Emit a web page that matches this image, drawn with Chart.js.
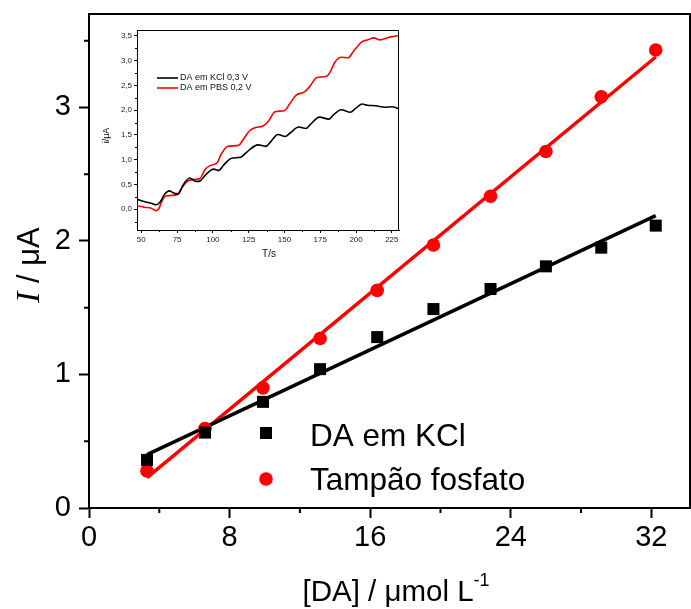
<!DOCTYPE html>
<html><head><meta charset="utf-8">
<script src="https://cdn.jsdelivr.net/npm/chart.js@4/dist/chart.umd.min.js"></script>
<style>
html,body{margin:0;padding:0;background:#fff;}
#wrap{position:relative;width:691px;height:609px;overflow:hidden;}
#main{position:absolute;left:0;top:0;}
#inset{position:absolute;left:95px;top:25px;}
</style></head><body>
<div id="wrap"><canvas id="main" width="691" height="609"></canvas><canvas id="inset" width="310" height="240"></canvas></div>
<script>
// ---- main chart data ----
const concentration = [3.3, 6.6, 9.9, 13.15, 16.4, 19.6, 22.85, 26.0, 29.15, 32.25];
const kclCurrent = [0.36, 0.565, 0.795, 1.04, 1.28, 1.49, 1.64, 1.81, 1.95, 2.115];
const pbsCurrent = [0.278, 0.595, 0.90, 1.27, 1.63, 1.97, 2.335, 2.67, 3.08, 3.43];
const fitX = [3.3, 32.25];
const kclFit = [0.40, 2.19];
const pbsFit = [0.227, 3.378];
const xTicks = [0, 8, 16, 24, 32];
const xMinor = [4, 12, 20, 28];
const yTicks = [0, 1, 2, 3];
const yMinor = [0.5, 1.5, 2.5, 3.5];
const legendLabels = ['DA em KCl', 'Tampão fosfato'];

// ---- inset data ----
const kclTime = [47,52,57,60.5,63,66.3,69.5,73,76,79,83.8,88.5,91,94.5,100.5,104,107.5,113,119.5,123.5,131.5,137,140,145.5,150.5,154,160,165,168,174.5,181,184,189.7,196,199.5,204.2,208,213.5,220.5,225,230];
const kclTrace = [0.20,0.155,0.12,0.09,0.14,0.30,0.37,0.32,0.31,0.48,0.63,0.56,0.57,0.68,0.81,0.78,0.89,1.03,1.05,1.15,1.30,1.27,1.35,1.51,1.47,1.54,1.66,1.63,1.71,1.86,1.82,1.90,2.01,1.96,2.03,2.125,2.10,2.09,2.06,2.07,2.03];
const pbsTime = [47,52,57,60,62,65,67.5,72,75,78,82.5,87,91,94.5,98,103,106,110.5,118,121,125.8,130,135,138.6,143.4,150,153.7,158,164,167.7,172.7,179,181.7,185.2,189.7,194.5,198,204,208,212.4,217,222.5,226,230];
const pbsTrace = [0.07,0.04,0.02,-0.03,0.0,0.20,0.27,0.28,0.29,0.42,0.57,0.60,0.62,0.80,0.88,0.94,1.12,1.27,1.29,1.40,1.59,1.65,1.68,1.77,1.97,1.99,2.13,2.30,2.37,2.48,2.66,2.68,2.76,2.97,3.07,3.06,3.18,3.38,3.42,3.46,3.42,3.47,3.49,3.51];
const insetXTicks = [50, 75, 100, 125, 150, 175, 200, 225];
const insetXMinor = [62.5, 87.5, 112.5, 137.5, 162.5, 187.5, 212.5];
const insetYTicks = [0, 0.5, 1, 1.5, 2, 2.5, 3, 3.5];
const insetYMinor = [-0.25, 0.25, 0.75, 1.25, 1.75, 2.25, 2.75, 3.25];
const insetLegend = ['DA em KCl 0,3 V', 'DA em PBS 0,2 V'];

const SANS = '"Liberation Sans", Arial, sans-serif';
const RED = '#ff0000';

const pts = (xs, ys) => xs.map((x, i) => ({x: x, y: ys[i]}));
const noPad = s => { s.paddingLeft = 0; s.paddingRight = 0; s.paddingTop = 0; s.paddingBottom = 0; };

const mainDecor = {
  id: 'mainDecor',
  afterDraw(chart) {
    const ctx = chart.ctx, a = chart.chartArea, x = chart.scales.x, y = chart.scales.y;
    ctx.save();
    ctx.strokeStyle = '#000'; ctx.lineWidth = 2;
    ctx.beginPath();
    ctx.moveTo(a.left - 1, a.top); ctx.lineTo(a.right, a.top); ctx.lineTo(a.right, a.bottom);
    ctx.stroke();
    ctx.beginPath();
    xMinor.forEach(v => { const p = x.getPixelForValue(v); ctx.moveTo(p, a.bottom); ctx.lineTo(p, a.bottom + 5); });
    yMinor.forEach(v => { const p = y.getPixelForValue(v); ctx.moveTo(a.left, p); ctx.lineTo(a.left - 5, p); });
    ctx.stroke();
    // legend
    ctx.fillStyle = '#000';
    ctx.fillRect(266 - 6, 433 - 6, 12, 12);
    ctx.fillStyle = RED;
    ctx.beginPath(); ctx.arc(266, 479, 6.8, 0, Math.PI * 2); ctx.fill();
    ctx.fillStyle = '#000';
    ctx.font = '31.5px ' + SANS; ctx.textAlign = 'left'; ctx.textBaseline = 'middle';
    ctx.fillText(legendLabels[0], 310, 437);
    ctx.fillText(legendLabels[1], 310, 481);
    // x title
    const fT = '29.5px ' + SANS, fS = '18px ' + SANS;
    ctx.font = fT; const wMain = ctx.measureText('[DA] / μmol L').width;
    ctx.font = fS; const wSup = ctx.measureText('-1').width;
    const sx = 396 - (wMain + wSup) / 2;
    ctx.textBaseline = 'alphabetic';
    ctx.font = fT; ctx.fillText('[DA] / μmol L', sx, 601);
    ctx.font = fS; ctx.fillText('-1', sx + wMain, 586);
    // y title
    ctx.save();
    ctx.translate(30, 265); ctx.rotate(-Math.PI / 2);
    const f1 = 'italic 33px "Liberation Serif", "Times New Roman", serif';
    const f2 = '31px ' + SANS;
    ctx.font = f1; const w1 = ctx.measureText('I').width;
    ctx.font = f2; const w2 = ctx.measureText(' / μA').width;
    const s0 = -(w1 + w2) / 2;
    ctx.textBaseline = 'middle';
    ctx.font = f1; ctx.fillText('I', s0, 0);
    ctx.font = f2; ctx.fillText(' / μA', s0 + w1, 0);
    ctx.restore();
    ctx.restore();
  }
};

new Chart(document.getElementById('main'), {
  type: 'scatter',
  data: {
    datasets: [
      {data: pts(concentration, kclCurrent), pointStyle: 'rect', pointRadius: 8.5, backgroundColor: '#000', borderWidth: 0, order: 1},
      {data: pts(concentration, pbsCurrent), pointStyle: 'circle', pointRadius: 6.8, backgroundColor: RED, borderWidth: 0, order: 1},
      {data: pts(fitX, kclFit), showLine: true, borderColor: '#000', borderWidth: 3.5, pointRadius: 0, order: 2},
      {data: pts(fitX, pbsFit), showLine: true, borderColor: RED, borderWidth: 3.5, pointRadius: 0, order: 2}
    ]
  },
  options: {
    responsive: false, animation: false, devicePixelRatio: 1,
    layout: {autoPadding: false, padding: {left: 0, right: 1, top: 14, bottom: 0}},
    plugins: {legend: {display: false}, tooltip: {enabled: false}},
    scales: {
      x: {
        type: 'linear', min: 0, max: 34.2,
        afterBuildTicks: s => { s.ticks = xTicks.map(v => ({value: v})); },
        afterFit: s => { s.height = 101; noPad(s); },
        grid: {drawOnChartArea: false, drawTicks: true, tickLength: 10, tickColor: '#000', tickWidth: 2},
        border: {display: true, color: '#000', width: 2},
        ticks: {font: {family: SANS, size: 29}, color: '#000', padding: 3, maxRotation: 0, autoSkip: false}
      },
      y: {
        type: 'linear', min: 0, max: 3.7,
        afterBuildTicks: s => { s.ticks = yTicks.map(v => ({value: v})); },
        afterFit: s => { s.width = 89; noPad(s); },
        grid: {drawOnChartArea: false, drawTicks: true, tickLength: 10, tickColor: '#000', tickWidth: 2},
        border: {display: true, color: '#000', width: 2},
        ticks: {font: {family: SANS, size: 29}, color: '#000', padding: 8, autoSkip: false}
      }
    }
  },
  plugins: [mainDecor]
});

const insetDecor = {
  id: 'insetDecor',
  afterDraw(chart) {
    const ctx = chart.ctx, a = chart.chartArea, x = chart.scales.x, y = chart.scales.y;
    ctx.save();
    ctx.strokeStyle = '#000'; ctx.lineWidth = 1;
    ctx.beginPath();
    ctx.moveTo(a.left, a.top + 0.5); ctx.lineTo(a.right - 0.5, a.top + 0.5); ctx.lineTo(a.right - 0.5, a.bottom);
    ctx.stroke();
    ctx.beginPath();
    insetXMinor.forEach(v => { const p = Math.round(x.getPixelForValue(v)) + 0.5; ctx.moveTo(p, a.bottom); ctx.lineTo(p, a.bottom + 2); });
    insetYMinor.forEach(v => { const p = Math.round(y.getPixelForValue(v)) + 0.5; ctx.moveTo(a.left, p); ctx.lineTo(a.left - 2, p); });
    ctx.stroke();
    // legend
    ctx.lineWidth = 1.6;
    ctx.strokeStyle = '#000';
    ctx.beginPath(); ctx.moveTo(62, 53); ctx.lineTo(83, 53); ctx.stroke();
    ctx.strokeStyle = RED;
    ctx.beginPath(); ctx.moveTo(62, 63); ctx.lineTo(83, 63); ctx.stroke();
    ctx.fillStyle = '#111';
    ctx.font = '9px ' + SANS; ctx.textAlign = 'left'; ctx.textBaseline = 'middle';
    ctx.fillText(insetLegend[0], 85, 53);
    ctx.fillText(insetLegend[1], 85, 63);
    // titles
    ctx.font = '10px ' + SANS; ctx.textAlign = 'center';
    ctx.fillText('T/s', 174, 229.5);
    ctx.save();
    ctx.translate(11.5, 110.5); ctx.rotate(-Math.PI / 2);
    ctx.font = '9px ' + SANS;
    ctx.fillText('i/μA', 0, 0);
    ctx.restore();
    ctx.restore();
  }
};

new Chart(document.getElementById('inset'), {
  type: 'scatter',
  data: {
    datasets: [
      {data: pts(kclTime, kclTrace), showLine: true, borderColor: '#000', borderWidth: 1.6, pointRadius: 0, cubicInterpolationMode: 'monotone'},
      {data: pts(pbsTime, pbsTrace), showLine: true, borderColor: RED, borderWidth: 1.6, pointRadius: 0, cubicInterpolationMode: 'monotone'}
    ]
  },
  options: {
    responsive: false, animation: false, devicePixelRatio: 1,
    layout: {autoPadding: false, padding: {left: 0, right: 6, top: 5, bottom: 0}},
    plugins: {legend: {display: false}, tooltip: {enabled: false}},
    scales: {
      x: {
        type: 'linear', min: 47, max: 230,
        afterBuildTicks: s => { s.ticks = insetXTicks.map(v => ({value: v})); },
        afterFit: s => { s.height = 35; noPad(s); },
        grid: {drawOnChartArea: false, drawTicks: true, tickLength: 3, tickColor: '#000', tickWidth: 1},
        border: {display: true, color: '#000', width: 1},
        ticks: {font: {family: SANS, size: 8}, color: '#222', padding: 2, maxRotation: 0, autoSkip: false}
      },
      y: {
        type: 'linear', min: -0.42, max: 3.62,
        afterBuildTicks: s => { s.ticks = insetYTicks.map(v => ({value: v})); },
        afterFit: s => { s.width = 42; noPad(s); },
        grid: {drawOnChartArea: false, drawTicks: true, tickLength: 3, tickColor: '#000', tickWidth: 1},
        border: {display: true, color: '#000', width: 1},
        ticks: {font: {family: SANS, size: 8}, color: '#222', padding: 2, autoSkip: false,
                callback: v => v.toFixed(1).replace('.', ',')}
      }
    }
  },
  plugins: [insetDecor]
});
</script>
</body></html>
